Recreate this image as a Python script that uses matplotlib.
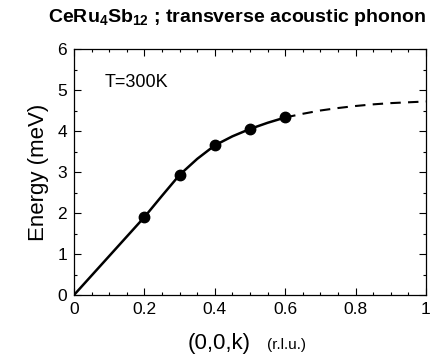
import matplotlib
matplotlib.use("Agg")
import matplotlib.pyplot as plt
from matplotlib.ticker import MultipleLocator

plt.rcParams['font.family'] = ['Liberation Sans', 'DejaVu Sans']
plt.rcParams['mathtext.fontset'] = 'custom'
plt.rcParams['mathtext.rm'] = 'Liberation Sans'
plt.rcParams['mathtext.bf'] = 'Liberation Sans:bold'

# measured points
k_pts = [0.2, 0.3, 0.4, 0.5, 0.6]
e_pts = [1.9, 2.93, 3.65, 4.05, 4.33]

# fitted dispersion curve
k_fit = [0.0, 0.1, 0.2, 0.25, 0.3, 0.35, 0.4, 0.45, 0.5, 0.55, 0.6]
e_fit = [0.0, 0.95, 1.9, 2.42, 2.93, 3.32, 3.65, 3.87, 4.05, 4.2, 4.33]
k_ext = [0.6, 0.65, 0.7, 0.75, 0.8, 0.85, 0.9, 0.95, 1.0]
e_ext = [4.33, 4.42, 4.5, 4.56, 4.61, 4.65, 4.68, 4.7, 4.72]

fig = plt.figure(figsize=(4.31, 3.56), dpi=100)
ax = fig.add_axes([74/431, 1 - 295/356, 352/431, 246/356])

ax.plot(k_fit, e_fit, color='black', lw=1.8)
ax.plot(k_ext, e_ext, color='black', lw=1.5, ls=(0, (5, 3.5)))
ax.plot(k_pts, e_pts, 'o', color='black', ms=7.5)

ax.set_xlim(0, 1)
ax.set_ylim(0, 6)
ax.xaxis.set_minor_locator(MultipleLocator(0.05))
ax.yaxis.set_minor_locator(MultipleLocator(0.5))
ax.set_xticks([0, 0.2, 0.4, 0.6, 0.8, 1.0])
ax.set_xticklabels(['0', '0.2', '0.4', '0.6', '0.8', '1'])
ax.set_yticks([0, 1, 2, 3, 4, 5, 6])
ax.set_yticklabels(['0', '1', '2', '3', '4', '5', '6'])
ax.tick_params(which='both', direction='in', top=True, right=True, labelsize=12.5, width=0.8)
ax.tick_params(which='major', length=5, pad=5)
ax.tick_params(which='minor', length=2.5)
for s in ax.spines.values():
    s.set_linewidth(0.9)

ax.set_ylabel('Energy (meV)', fontsize=16, labelpad=6)
fig.text(188/431, 1 - 343/356, '(0,0,k)', fontsize=16, va='center', ha='left')
fig.text(267/431, 1 - 345/356, '(r.l.u.)', fontsize=11, va='center', ha='left')
ax.text(0.088, 5.18, 'T=300K', fontsize=13, va='center')

fig.text(237/431, 1 - 17/356, r'CeRu$\mathbf{_4}$Sb$\mathbf{_{12}}$ ; transverse acoustic phonon',
         fontsize=14, fontweight='bold', ha='center', va='center')

fig.savefig('out.png', dpi=100)
